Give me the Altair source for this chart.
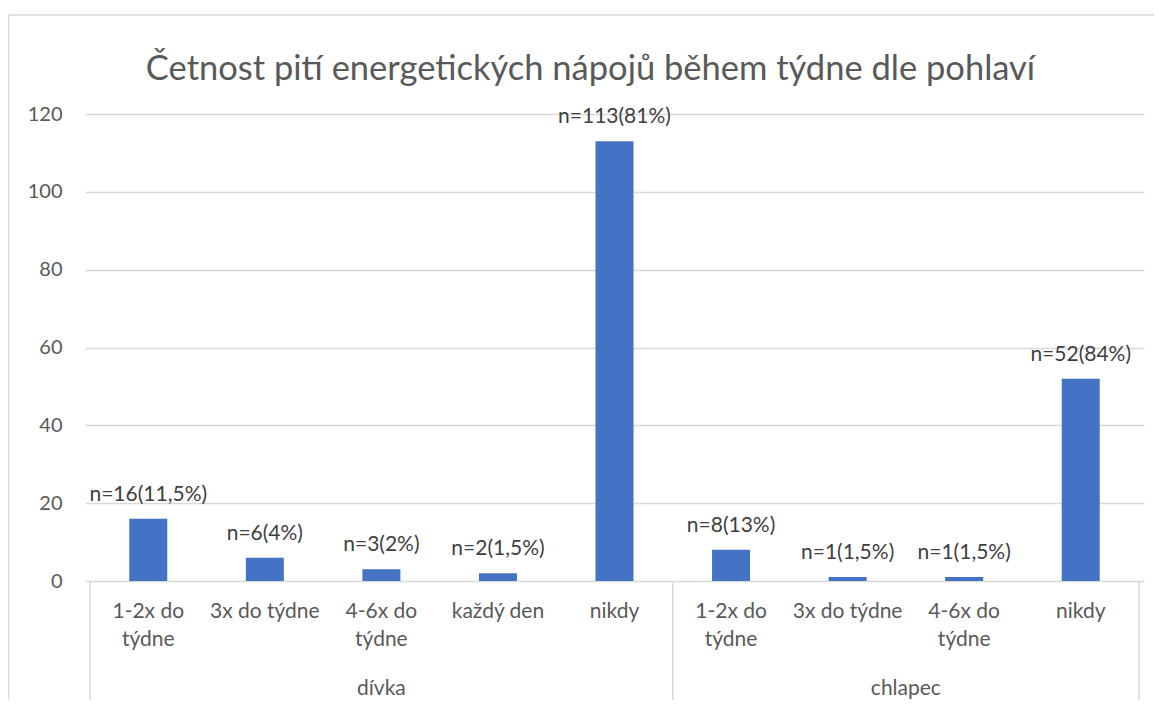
import altair as alt
import pandas as pd

# ---- data ----
groups = ["dívka", "dívka", "dívka", "dívka", "dívka",
          "chlapec", "chlapec", "chlapec", "chlapec"]
categories = ["1-2x do\ntýdne", "3x do týdne", "4-6x do\ntýdne", "každý den", "nikdy",
              "1-2x do\ntýdne", "3x do týdne", "4-6x do\ntýdne", "nikdy"]
values = [16, 6, 3, 2, 113, 8, 1, 1, 52]
labels = ["n=16(11,5%)", "n=6(4%)", "n=3(2%)", "n=2(1,5%)", "n=113(81%)",
          "n=8(13%)", "n=1(1,5%)", "n=1(1,5%)", "n=52(84%)"]
group_names = ["dívka", "chlapec"]
y_ticks = [0, 20, 40, 60, 80, 100, 120]

title = "Četnost pití energetických nápojů během týdne dle pohlaví"

# ---- tables ----
n = len(categories)
line1 = [c.split("\n")[0] for c in categories]
line2 = [c.split("\n")[1] if "\n" in c else "" for c in categories]
df = pd.DataFrame({
    "group": groups,
    "line1": line1,
    "line2": line2,
    "value": values,
    "label": labels,
    "pos": [i + 0.5 for i in range(n)],
})

bounds = [0]
centres = []
for g in group_names:
    idx = [i for i, gg in enumerate(groups) if gg == g]
    centres.append((idx[0] + idx[-1] + 1) / 2)
    bounds.append(idx[-1] + 1)
df_groups = pd.DataFrame({"group": group_names, "pos": centres})
df_bounds = pd.DataFrame({"pos": bounds})
df_one = pd.DataFrame({"k": [0]})

W, H = 1059, 467
FONT = "Lato"
GRID = "#d9d9d9"
TXT = "#595959"
FS = 21

xscale = alt.Scale(domain=[0, n], nice=False, zero=False)
yscale = alt.Scale(domain=[0, 120], nice=False)
yaxis = alt.Axis(values=y_ticks, title=None, domain=False, ticks=False,
                 grid=True, gridColor=GRID, gridWidth=1.3,
                 labelFont=FONT, labelFontSize=20, labelColor=TXT, labelPadding=23)

X = alt.X("pos:Q", scale=xscale, axis=None)

base = alt.Chart(df)

bars = base.mark_bar(size=38, color="#4472C4").encode(
    x=X,
    y=alt.Y("value:Q", scale=yscale, axis=yaxis),
)

data_labels = base.mark_text(font=FONT, fontSize=FS, color="#404040",
                             baseline="middle", dy=-24).encode(
    x=X,
    y=alt.Y("value:Q", scale=yscale, axis=yaxis),
    text="label:N",
)

cat_row1 = base.mark_text(font=FONT, fontSize=FS, color=TXT, baseline="middle").encode(
    x=X, y=alt.value(H + 31), text="line1:N",
)
cat_row2 = base.mark_text(font=FONT, fontSize=FS, color=TXT, baseline="middle").encode(
    x=X, y=alt.value(H + 59), text="line2:N",
)

grp_labels = alt.Chart(df_groups).mark_text(font=FONT, fontSize=FS, color=TXT,
                                            baseline="middle").encode(
    x=X, y=alt.value(H + 108), text="group:N",
)

seps = alt.Chart(df_bounds).mark_rule(color=GRID, strokeWidth=1.5).encode(
    x=X, y=alt.value(H), y2=alt.value(H + 124),
)

# chart-area frame (left and top edges, as in the cropped reference)
border_left = alt.Chart(df_one).mark_rule(color=GRID, strokeWidth=1.5).encode(
    x=alt.value(-76.5), y=alt.value(-99), y2=alt.value(H + 130),
)
border_top = alt.Chart(df_one).mark_rule(color=GRID, strokeWidth=1.5).encode(
    x=alt.value(-76.5), x2=alt.value(W + 20), y=alt.value(-99),
)

chart = alt.layer(
    border_left, border_top, seps, bars, data_labels, cat_row1, cat_row2, grp_labels
).properties(
    width=W,
    height=H,
    title=title,
    padding={"left": 77, "top": 106, "right": 10, "bottom": 119},
    autosize=alt.AutoSizeParams(type="none"),
).configure_view(strokeWidth=0).configure_title(
    font=FONT, fontSize=34.5, color=TXT, fontWeight="normal", anchor="middle",
    offset=-73, dx=-24
)

chart.save("out.html", embed_options={"renderer": "svg", "actions": False})
